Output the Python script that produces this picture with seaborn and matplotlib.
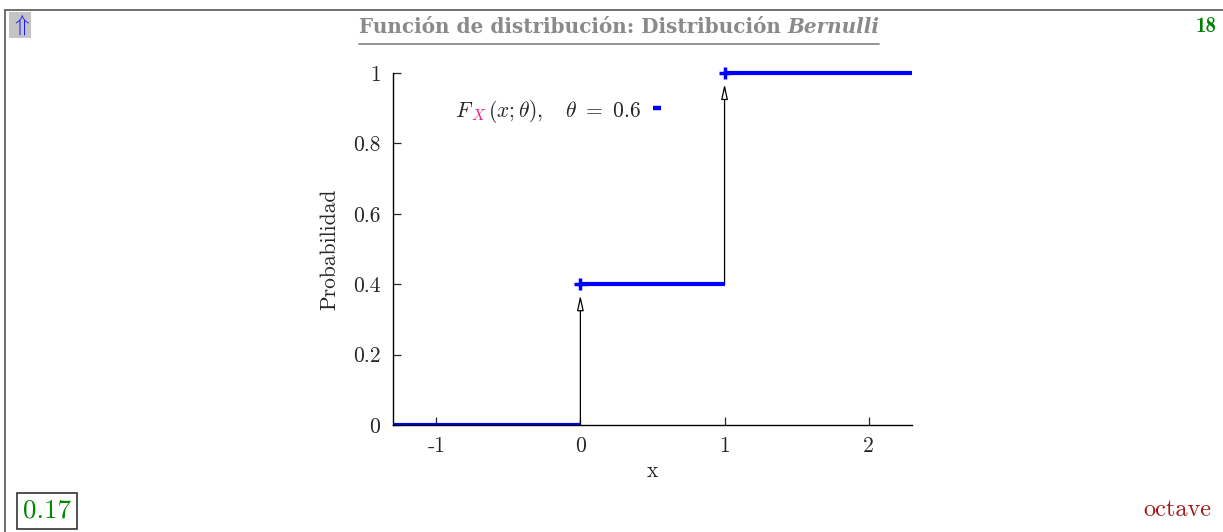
import numpy as np
import pandas as pd
import matplotlib
matplotlib.use("Agg")
import matplotlib.pyplot as plt
import matplotlib.transforms as mtransforms
from matplotlib.lines import Line2D
import seaborn as sns

# Bernoulli CDF data
theta = 0.6
x_range = [-1.3, 2.3]
support = [0, 1]
cdf_levels = [0.0, 1 - theta, 1.0]
x_ticks = [-1, 0, 1, 2]
x_tick_labels = ["-1", "0", "1", "2"]
y_ticks = [0, 0.2, 0.4, 0.6, 0.8, 1.0]
y_tick_labels = ["0", "0.2", "0.4", "0.6", "0.8", "1"]

sns.set_style("ticks")
plt.rcParams["mathtext.fontset"] = "cm"
plt.rcParams["font.family"] = ["cmr10", "DejaVu Serif"]
plt.rcParams["axes.formatter.use_mathtext"] = True

BLUE = "#0000ff"
FS = 15.5
W, H = 1223, 532

# one segment per constant piece of the step function
edges = [x_range[0]] + support + [x_range[1]]
rows = []
for i, level in enumerate(cdf_levels):
    rows.append({"seg": i, "x": edges[i], "y": level})
    rows.append({"seg": i, "x": edges[i + 1], "y": level})
steps = pd.DataFrame(rows)
jumps = pd.DataFrame({"x": support, "y": cdf_levels[1:]})

fig = plt.figure(figsize=(W / 100, H / 100), dpi=100)
ax = fig.add_axes([0.3213, 0.2011, 0.4244, 0.6617])

sns.lineplot(data=steps, x="x", y="y", units="seg", estimator=None,
             color=BLUE, linewidth=3.0, ax=ax, legend=False, zorder=3,
             clip_on=False, solid_capstyle="butt")
# the piece lying on the x axis stays clipped to the plot area
ax.lines[0].set_clip_on(True)
sns.scatterplot(data=jumps, x="x", y="y", marker="+", s=80, color=BLUE,
                linewidth=2.5, ax=ax, legend=False, zorder=4, clip_on=False)

# jump arrows
for xj, lo, hi in zip(support, cdf_levels[:-1], cdf_levels[1:]):
    ax.annotate("", xy=(xj, hi), xytext=(xj, lo),
                arrowprops=dict(arrowstyle="-|>,head_length=0.9,head_width=0.2",
                                fc="white", ec="black", lw=0.9,
                                shrinkA=0, shrinkB=8), zorder=2)

ax.set_xlim(*x_range)
ax.set_ylim(0, 1)
ax.set_xticks(x_ticks)
ax.set_xticklabels(x_tick_labels)
ax.set_yticks(y_ticks)
ax.set_yticklabels(y_tick_labels)
ax.tick_params(direction="in", length=6, width=0.9, labelsize=FS)
ax.tick_params(axis="y", pad=9)
ax.tick_params(axis="x", pad=8)
for s in ["top", "right"]:
    ax.spines[s].set_visible(False)
for s in ["left", "bottom"]:
    ax.spines[s].set_linewidth(1.0)
    ax.spines[s].set_color("black")
    ax.spines[s].set_zorder(5)
ax.set_xlabel("x", fontsize=FS, labelpad=4)
ax.set_ylabel("Probabilidad", fontsize=FS, labelpad=10)
ax.patch.set_alpha(0)

# legend text with a coloured subscript
fig.canvas.draw()
renderer = fig.canvas.get_renderer()
x0, y0 = 0.119, 0.876
t1 = ax.text(x0, y0, r"$F$", fontsize=FS, va="baseline", transform=ax.transAxes)
w1 = t1.get_window_extent(renderer).width
t2 = ax.text(x0, y0, r"$X$", fontsize=FS * 0.72, color="#ee1d8c", va="baseline",
             transform=mtransforms.offset_copy(ax.transAxes, fig, x=w1 - 2, y=-3, units="dots"))
w2 = t2.get_window_extent(renderer).width
ax.text(x0, y0, r"$(x;\theta),\quad\theta\ =\ 0.6$", fontsize=FS, va="baseline",
        transform=mtransforms.offset_copy(ax.transAxes, fig, x=w1 + w2, y=0, units="dots"))
ax.legend(handles=[Line2D([], [], color=BLUE, lw=3.2, solid_capstyle="butt")], labels=[""],
          loc="center", bbox_to_anchor=(0.509, 0.897), frameon=False,
          handlelength=0.55, handletextpad=0, borderpad=0, borderaxespad=0)

# page frame and header/footer
fig.add_artist(Line2D([5 / W, 1], [1 - 10 / H] * 2, color="#555555", lw=1.2,
                      transform=fig.transFigure))
fig.add_artist(Line2D([5 / W] * 2, [0, 1 - 10 / H], color="#555555", lw=1.2,
                      transform=fig.transFigure))
fig.text(20 / W, 1 - 25 / H, r"$\Uparrow$", fontsize=17, color="#1a1aff",
         ha="center", va="center",
         bbox=dict(facecolor="#c4c4c4", edgecolor="none", pad=0.6))

# title: bold part followed by bold italic name, centred and underlined
ty = 1 - 27 / H
TFS = 14.4
ta = fig.text(0, ty, "Función de distribución: Distribución ", fontsize=TFS,
              family="DejaVu Serif", weight="bold", color="#8a8a8a", va="center")
tbi = fig.text(0, ty, "Bernulli", fontsize=TFS, family="DejaVu Serif",
               weight="bold", style="italic", color="#8a8a8a", va="center")
fig.canvas.draw()
inv = fig.transFigure.inverted()
wa = ta.get_window_extent(renderer).transformed(inv).width
wb = tbi.get_window_extent(renderer).transformed(inv).width
start = 619 / W - (wa + wb) / 2
ta.set_x(start)
tbi.set_x(start + wa)
fig.add_artist(Line2D([start, start + wa + wb], [1 - 44 / H] * 2, color="#8a8a8a",
                      lw=1.3, transform=fig.transFigure))

fig.text(1206 / W, 1 - 27 / H, "18", fontsize=15, color="#008000",
         family="cmb10", ha="center", va="center")
fig.text(47 / W, 1 - 511 / H, "0.17", fontsize=19.5, color="#008800",
         ha="center", va="center",
         bbox=dict(facecolor="white", edgecolor="#333333", lw=1.2, pad=4))
fig.text(1177 / W, 1 - 510 / H, "octave", fontsize=17.5, color="#a01818",
         ha="center", va="center")

fig.savefig("out.png", dpi=100)
